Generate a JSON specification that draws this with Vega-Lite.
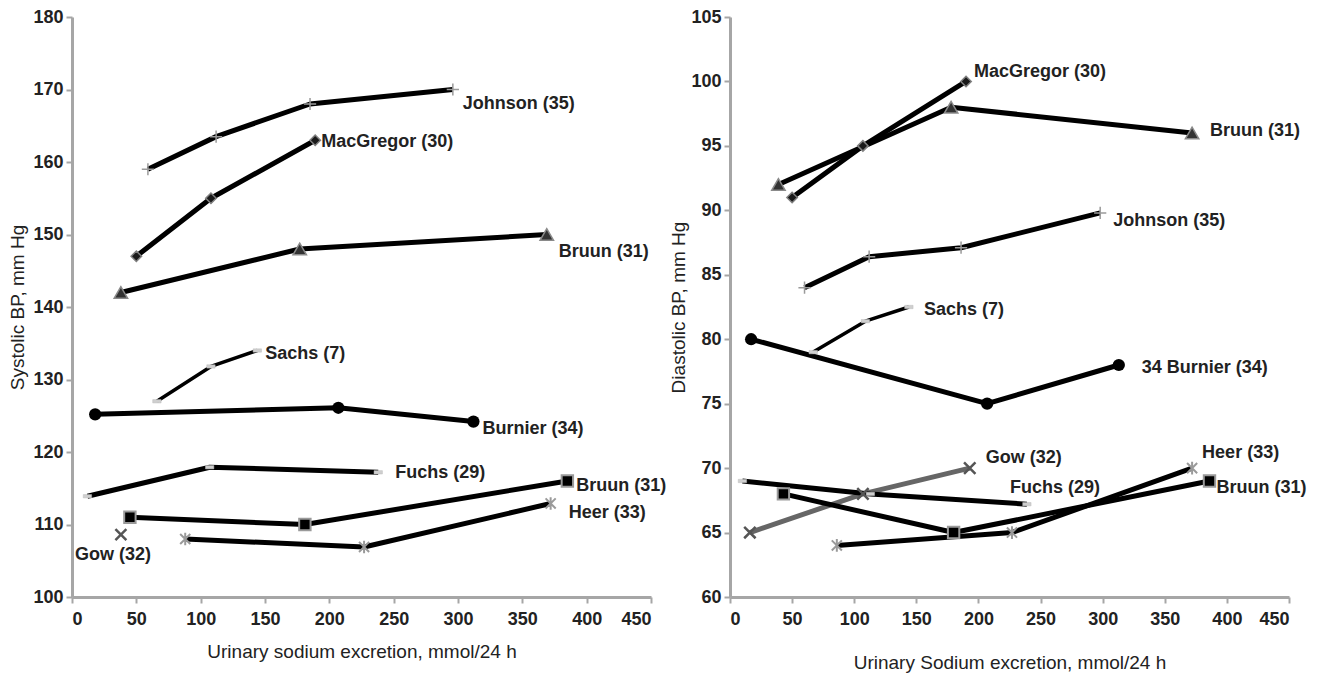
{
  "$schema": "https://vega.github.io/schema/vega-lite/v6.json",
  "padding": {"left": 8, "top": 8, "right": 5, "bottom": 5},
  "bounds": "flush",
  "spacing": 79,
  "background": "white",
  "datasets": {
    "sys": [
      {"series": "Johnson", "x": 59, "y": 159},
      {"series": "Johnson", "x": 112, "y": 163.5},
      {"series": "Johnson", "x": 185, "y": 168},
      {"series": "Johnson", "x": 296, "y": 170, "label": "Johnson (35)"},
      {"series": "MacGregor", "x": 50, "y": 147},
      {"series": "MacGregor", "x": 108, "y": 155},
      {"series": "MacGregor", "x": 189, "y": 163, "label": "MacGregor (30)"},
      {"series": "BruunA", "x": 38, "y": 142},
      {"series": "BruunA", "x": 177, "y": 148},
      {"series": "BruunA", "x": 369, "y": 150, "label": "Bruun (31)"},
      {"series": "Sachs", "x": 66, "y": 127},
      {"series": "Sachs", "x": 108, "y": 131.8},
      {"series": "Sachs", "x": 144, "y": 134, "label": "Sachs (7)"},
      {"series": "Burnier", "x": 18, "y": 125.2},
      {"series": "Burnier", "x": 207, "y": 126.1},
      {"series": "Burnier", "x": 312, "y": 124.2, "label": "Burnier (34)"},
      {"series": "Fuchs", "x": 12, "y": 113.9},
      {"series": "Fuchs", "x": 107, "y": 117.9},
      {"series": "Fuchs", "x": 238, "y": 117.2, "label": "Fuchs (29)"},
      {"series": "BruunB", "x": 45, "y": 111},
      {"series": "BruunB", "x": 181, "y": 110},
      {"series": "BruunB", "x": 385, "y": 116, "label": "Bruun (31)"},
      {"series": "Heer", "x": 88, "y": 108},
      {"series": "Heer", "x": 227, "y": 106.9},
      {"series": "Heer", "x": 372, "y": 112.9, "label": "Heer (33)"},
      {"series": "Gow", "x": 38, "y": 108.6, "label": "Gow (32)"}
    ],
    "dia": [
      {"series": "MacGregor", "x": 50, "y": 91},
      {"series": "MacGregor", "x": 107, "y": 95},
      {"series": "MacGregor", "x": 190, "y": 100, "label": "MacGregor (30)"},
      {"series": "BruunA", "x": 39, "y": 92},
      {"series": "BruunA", "x": 178, "y": 98},
      {"series": "BruunA", "x": 372, "y": 96, "label": "Bruun (31)"},
      {"series": "Johnson", "x": 60, "y": 84},
      {"series": "Johnson", "x": 112, "y": 86.4},
      {"series": "Johnson", "x": 186, "y": 87.1},
      {"series": "Johnson", "x": 298, "y": 89.8, "label": "Johnson (35)"},
      {"series": "Sachs", "x": 67, "y": 79},
      {"series": "Sachs", "x": 109, "y": 81.4},
      {"series": "Sachs", "x": 144, "y": 82.5, "label": "Sachs (7)"},
      {"series": "Burnier", "x": 17, "y": 80},
      {"series": "Burnier", "x": 207, "y": 75},
      {"series": "Burnier", "x": 313, "y": 78, "label": "34 Burnier (34)"},
      {"series": "Gow", "x": 16, "y": 65},
      {"series": "Gow", "x": 107, "y": 68},
      {"series": "Gow", "x": 193, "y": 70, "label": "Gow (32)"},
      {"series": "Fuchs", "x": 10, "y": 69},
      {"series": "Fuchs", "x": 113, "y": 68},
      {"series": "Fuchs", "x": 239, "y": 67.2, "label": "Fuchs (29)"},
      {"series": "BruunB", "x": 43, "y": 68},
      {"series": "BruunB", "x": 180, "y": 65},
      {"series": "BruunB", "x": 386, "y": 69, "label": "Bruun (31)"},
      {"series": "Heer", "x": 86, "y": 64},
      {"series": "Heer", "x": 227, "y": 65},
      {"series": "Heer", "x": 372, "y": 70, "label": "Heer (33)"}
    ]
  },
  "hconcat": [
    {
      "width": 579,
      "height": 580,
      "data": {"name": "sys"},
      "encoding": {
        "x": {"field": "x", "type": "quantitative", "scale": {"domain": [0, 450], "nice": false, "zero": false},
              "axis": {"values": [0, 50, 100, 150, 200, 250, 300, 350, 400, 450], "title": "Urinary sodium excretion, mmol/24 h", "titlePadding": 14, "labelPadding": 7}},
        "y": {"field": "y", "type": "quantitative", "scale": {"domain": [100, 180], "nice": false, "zero": false},
              "axis": {"values": [100, 110, 120, 130, 140, 150, 160, 170, 180], "title": "Systolic BP, mm Hg", "titlePadding": 5, "labelPadding": 3}}
      },
      "layer": [
        {"mark": {"type": "line", "strokeCap": "butt", "strokeJoin": "round"},
         "encoding": {"detail": {"field": "series"},
                      "color": {"condition": {"test": "datum.series === 'Gow'", "value": "#666666"}, "value": "#000000"},
                      "strokeWidth": {"condition": {"test": "datum.series === 'Sachs'", "value": 3.5}, "value": 5}}},
        {"transform": [{"filter": "datum.series === 'Johnson'"}], "mark": {"type": "point", "shape": "M-1,0L1,0M0,-1L0,1", "size": 150, "filled": false, "stroke": "#9a9a9a", "strokeWidth": 1.5, "opacity": 1}},
        {"transform": [{"filter": "datum.series === 'MacGregor'"}], "mark": {"type": "point", "shape": "diamond", "size": 110, "filled": true, "fill": "#1a1a1a", "stroke": "#808080", "strokeWidth": 1.5, "opacity": 1}},
        {"transform": [{"filter": "datum.series === 'BruunA'"}], "mark": {"type": "point", "shape": "triangle-up", "size": 180, "filled": true, "fill": "#333333", "stroke": "#8a8a8a", "strokeWidth": 1.5, "opacity": 1}},
        {"transform": [{"filter": "datum.series === 'Sachs' || datum.series === 'Fuchs'"}], "mark": {"type": "point", "shape": "M-1,-0.4L1,-0.4L1,0.4L-1,0.4Z", "size": 70, "filled": true, "fill": "#cfcfcf", "stroke": "#bdbdbd", "strokeWidth": 0.5, "opacity": 1}},
        {"transform": [{"filter": "datum.series === 'Burnier'"}], "mark": {"type": "point", "shape": "circle", "size": 150, "filled": true, "fill": "#000000", "opacity": 1}},
        {"transform": [{"filter": "datum.series === 'BruunB'"}], "mark": {"type": "point", "shape": "square", "size": 130, "filled": true, "fill": "#000000", "stroke": "#9a9a9a", "strokeWidth": 2, "opacity": 1}},
        {"transform": [{"filter": "datum.series === 'Heer'"}], "mark": {"type": "point", "shape": "M-0.8,-0.8L0.8,0.8M-0.8,0.8L0.8,-0.8M0,-1L0,1", "size": 160, "filled": false, "stroke": "#9a9a9a", "strokeWidth": 2, "opacity": 1}},
        {"transform": [{"filter": "datum.series === 'Gow'"}], "mark": {"type": "point", "shape": "M-1,-1L1,1M-1,1L1,-1", "size": 120, "filled": false, "stroke": "#555555", "strokeWidth": 2.5, "opacity": 1}},
        {"transform": [{"filter": "datum.series === 'Johnson' && datum.label"}], "mark": {"type": "text", "dx": 10, "dy": 14}, "encoding": {"text": {"field": "label"}}},
        {"transform": [{"filter": "datum.series === 'MacGregor' && datum.label"}], "mark": {"type": "text", "dx": 6, "dy": 2}, "encoding": {"text": {"field": "label"}}},
        {"transform": [{"filter": "datum.series === 'BruunA' && datum.label"}], "mark": {"type": "text", "dx": 12, "dy": 17}, "encoding": {"text": {"field": "label"}}},
        {"transform": [{"filter": "datum.series === 'Sachs' && datum.label"}], "mark": {"type": "text", "dx": 8, "dy": 3}, "encoding": {"text": {"field": "label"}}},
        {"transform": [{"filter": "datum.series === 'Burnier' && datum.label"}], "mark": {"type": "text", "dx": 9, "dy": 7}, "encoding": {"text": {"field": "label"}}},
        {"transform": [{"filter": "datum.series === 'Fuchs' && datum.label"}], "mark": {"type": "text", "dx": 17, "dy": 1}, "encoding": {"text": {"field": "label"}}},
        {"transform": [{"filter": "datum.series === 'BruunB' && datum.label"}], "mark": {"type": "text", "dx": 9, "dy": 5}, "encoding": {"text": {"field": "label"}}},
        {"transform": [{"filter": "datum.series === 'Heer' && datum.label"}], "mark": {"type": "text", "dx": 18, "dy": 10}, "encoding": {"text": {"field": "label"}}},
        {"transform": [{"filter": "datum.series === 'Gow' && datum.label"}], "mark": {"type": "text", "align": "center", "dx": -8, "dy": 20}, "encoding": {"text": {"field": "label"}}}
      ]
    },
    {
      "width": 559,
      "height": 580,
      "data": {"name": "dia"},
      "encoding": {
        "x": {"field": "x", "type": "quantitative", "scale": {"domain": [0, 450], "nice": false, "zero": false},
              "axis": {"values": [0, 50, 100, 150, 200, 250, 300, 350, 400, 450], "title": "Urinary Sodium excretion, mmol/24 h", "titlePadding": 25, "labelPadding": 7}},
        "y": {"field": "y", "type": "quantitative", "scale": {"domain": [60, 105], "nice": false, "zero": false},
              "axis": {"values": [60, 65, 70, 75, 80, 85, 90, 95, 100, 105], "title": "Diastolic BP, mm Hg", "titlePadding": 2, "labelPadding": 3}}
      },
      "layer": [
        {"mark": {"type": "line", "strokeCap": "butt", "strokeJoin": "round"},
         "encoding": {"detail": {"field": "series"},
                      "color": {"condition": {"test": "datum.series === 'Gow'", "value": "#666666"}, "value": "#000000"},
                      "strokeWidth": {"condition": {"test": "datum.series === 'Sachs'", "value": 3.5}, "value": 5}}},
        {"transform": [{"filter": "datum.series === 'Johnson'"}], "mark": {"type": "point", "shape": "M-1,0L1,0M0,-1L0,1", "size": 150, "filled": false, "stroke": "#9a9a9a", "strokeWidth": 1.5, "opacity": 1}},
        {"transform": [{"filter": "datum.series === 'MacGregor'"}], "mark": {"type": "point", "shape": "diamond", "size": 110, "filled": true, "fill": "#1a1a1a", "stroke": "#808080", "strokeWidth": 1.5, "opacity": 1}},
        {"transform": [{"filter": "datum.series === 'BruunA'"}], "mark": {"type": "point", "shape": "triangle-up", "size": 180, "filled": true, "fill": "#333333", "stroke": "#8a8a8a", "strokeWidth": 1.5, "opacity": 1}},
        {"transform": [{"filter": "datum.series === 'Sachs' || datum.series === 'Fuchs'"}], "mark": {"type": "point", "shape": "M-1,-0.4L1,-0.4L1,0.4L-1,0.4Z", "size": 70, "filled": true, "fill": "#cfcfcf", "stroke": "#bdbdbd", "strokeWidth": 0.5, "opacity": 1}},
        {"transform": [{"filter": "datum.series === 'Burnier'"}], "mark": {"type": "point", "shape": "circle", "size": 150, "filled": true, "fill": "#000000", "opacity": 1}},
        {"transform": [{"filter": "datum.series === 'BruunB'"}], "mark": {"type": "point", "shape": "square", "size": 130, "filled": true, "fill": "#000000", "stroke": "#9a9a9a", "strokeWidth": 2, "opacity": 1}},
        {"transform": [{"filter": "datum.series === 'Heer'"}], "mark": {"type": "point", "shape": "M-0.8,-0.8L0.8,0.8M-0.8,0.8L0.8,-0.8M0,-1L0,1", "size": 160, "filled": false, "stroke": "#9a9a9a", "strokeWidth": 2, "opacity": 1}},
        {"transform": [{"filter": "datum.series === 'Gow'"}], "mark": {"type": "point", "shape": "M-1,-1L1,1M-1,1L1,-1", "size": 130, "filled": false, "stroke": "#555555", "strokeWidth": 2.5, "opacity": 1}},
        {"transform": [{"filter": "datum.series === 'MacGregor' && datum.label"}], "mark": {"type": "text", "dx": 8, "dy": -9}, "encoding": {"text": {"field": "label"}}},
        {"transform": [{"filter": "datum.series === 'BruunA' && datum.label"}], "mark": {"type": "text", "dx": 18, "dy": -2}, "encoding": {"text": {"field": "label"}}},
        {"transform": [{"filter": "datum.series === 'Johnson' && datum.label"}], "mark": {"type": "text", "dx": 13, "dy": 8}, "encoding": {"text": {"field": "label"}}},
        {"transform": [{"filter": "datum.series === 'Sachs' && datum.label"}], "mark": {"type": "text", "dx": 15, "dy": 3}, "encoding": {"text": {"field": "label"}}},
        {"transform": [{"filter": "datum.series === 'Burnier' && datum.label"}], "mark": {"type": "text", "dx": 23, "dy": 3}, "encoding": {"text": {"field": "label"}}},
        {"transform": [{"filter": "datum.series === 'Gow' && datum.label"}], "mark": {"type": "text", "dx": 16, "dy": -10}, "encoding": {"text": {"field": "label"}}},
        {"transform": [{"filter": "datum.series === 'Fuchs' && datum.label"}], "mark": {"type": "text", "dx": -17, "dy": -16}, "encoding": {"text": {"field": "label"}}},
        {"transform": [{"filter": "datum.series === 'BruunB' && datum.label"}], "mark": {"type": "text", "dx": 7, "dy": 7}, "encoding": {"text": {"field": "label"}}},
        {"transform": [{"filter": "datum.series === 'Heer' && datum.label"}], "mark": {"type": "text", "dx": 10, "dy": -15}, "encoding": {"text": {"field": "label"}}}
      ]
    }
  ],
  "config": {
    "view": {"stroke": null},
    "axis": {
      "grid": false,
      "domainColor": "#a6a6a6", "domainWidth": 3,
      "tickColor": "#a6a6a6", "tickWidth": 2, "tickSize": 6,
      "labelFont": "Liberation Sans", "labelFontSize": 18, "labelFontWeight": "bold", "labelColor": "#222222",
      "titleFont": "Liberation Sans", "titleFontSize": 19, "titleFontWeight": "normal", "titleColor": "#222222"
    },
    "text": {"font": "Liberation Sans", "fontSize": 18, "fontWeight": "bold", "fill": "#222222", "align": "left", "baseline": "middle"}
  }
}
